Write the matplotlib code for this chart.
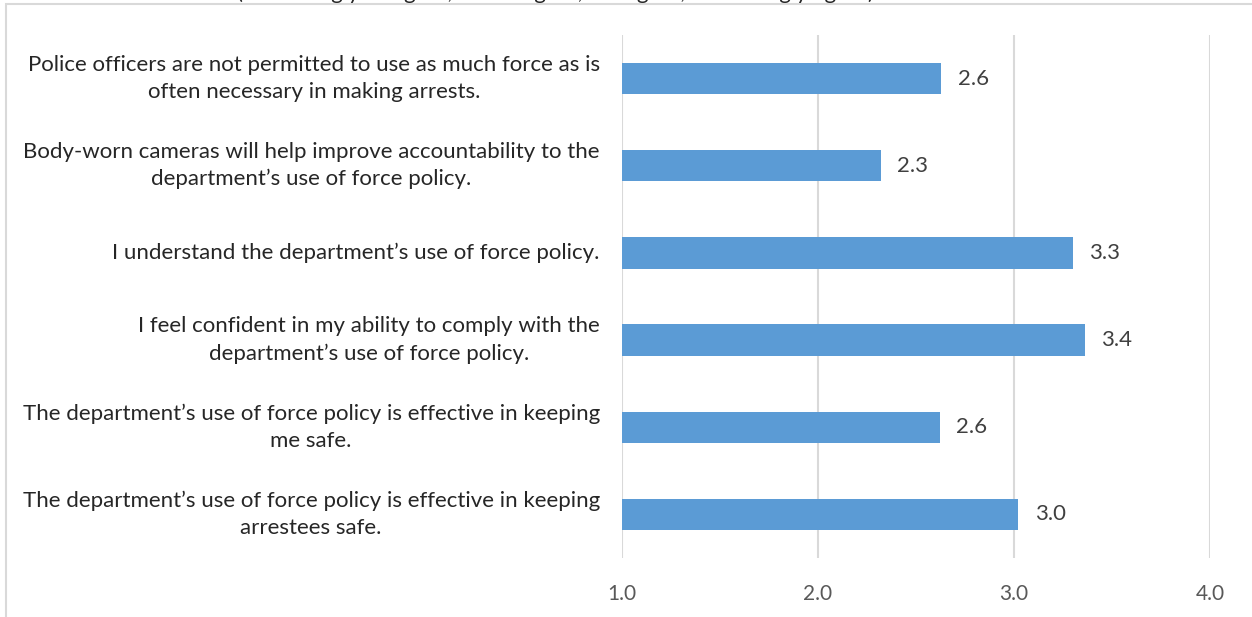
import matplotlib.pyplot as plt
from matplotlib.patches import Rectangle

plt.rcParams['font.family'] = ['Lato', 'DejaVu Sans']

# survey statements, top to bottom
statements = [
    "Police officers are not permitted to use as much force as is\noften necessary in making arrests.",
    "Body-worn cameras will help improve accountability to the\ndepartment\u2019s use of force policy.",
    "I understand the department\u2019s use of force policy.",
    "I feel confident in my ability to comply with the\ndepartment\u2019s use of force policy.",
    "The department\u2019s use of force policy is effective in keeping\nme safe.",
    "The department\u2019s use of force policy is effective in keeping\narrestees safe.",
]
mean_scores = [2.63, 2.32, 3.30, 3.36, 2.62, 3.02]
x_ticks = [1.0, 2.0, 3.0, 4.0]
scale_note = "(1 = strongly disagree, 2 = disagree, 3 = agree, 4 = strongly agree)"

W, H = 1252, 617
fig = plt.figure(figsize=(W / 100, H / 100), dpi=100)
ax = fig.add_axes([622 / W, 1 - 558 / H, (1210 - 622) / W, (558 - 35) / H])

pos = list(range(len(statements)))
ax.barh(pos, [v - 1.0 for v in mean_scores], left=1.0, height=0.36,
        color='#5B9BD5', zorder=3)

for y, v in zip(pos, mean_scores):
    ax.text(v + 0.085, y, f"{v:.1f}", va='center', ha='left',
            fontsize=16, color='#404040')

ax.set_xlim(1.0, 4.0)
ax.set_ylim(len(statements) - 0.5, -0.5)
ax.set_xticks(x_ticks)
ax.set_xticklabels([f"{t:.1f}" for t in x_ticks], fontsize=15, color='#595959')
ax.set_yticks(pos)
ax.set_yticklabels(statements, fontsize=16, color='#262626', ha='right',
                   va='center', multialignment='center', linespacing=1.42)
ax.tick_params(axis='both', length=0)
ax.tick_params(axis='x', pad=19)
ax.tick_params(axis='y', pad=16)
ax.xaxis.grid(True, color='#d9d9d9', linewidth=1.5, zorder=0)
for s in ax.spines.values():
    s.set_visible(False)

# chart area border
fig.patches.append(Rectangle((6 / W, -0.1), 1.1, 1 - 4 / H + 0.1,
                             transform=fig.transFigure, fill=False,
                             edgecolor='#d9d9d9', linewidth=1.5))

# heading sits mostly above the top edge
fig.text(555 / W, 1 + 1 / H, scale_note, ha='center', va='baseline',
         fontsize=16, color='#262626')

fig.savefig('out.png', dpi=100)
